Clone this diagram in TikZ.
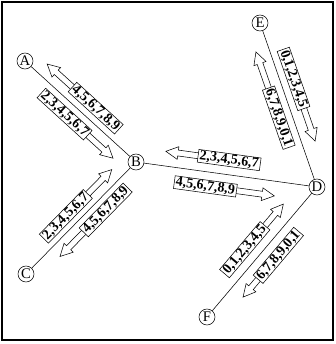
\documentclass[tikz,border=0pt]{standalone}
\usepackage{fontspec}
\setmainfont{Liberation Serif}
\usetikzlibrary{shapes.arrows}

\begin{document}
\begin{tikzpicture}[x=0.75pt, y=0.75pt,
    station/.style={draw, circle, minimum size=12pt, inner sep=0pt, font=\fontsize{11}{11}\selectfont},
    flowbox/.style={draw, fill=white, sloped, inner xsep=1.2pt, inner ysep=0.5pt, font=\bfseries\fontsize{10.5}{10.5}\selectfont},
    flowarrow/.style={draw, fill=white, sloped, single arrow, single arrow head extend=2.6pt, single arrow tip angle=55, minimum width=9pt, inner xsep=0pt, inner ysep=2pt},
    back/.style={shape border rotate=180}]

    \useasboundingbox (0,0) rectangle (336,344);
    \draw[line width=0.9pt] (2,4) rectangle (333,342);

    \node[station] (A) at (25,283) {A};
    \node[station] (B) at (136,182) {B};
    \node[station] (C) at (26,70) {C};
    \node[station] (D) at (317,157) {D};
    \node[station] (E) at (260,321) {E};
    \node[station] (F) at (207,27) {F};

    % A -- B
    \draw (A) -- (B)
        node[flowarrow, back, pos=.332, yshift=9.5pt, minimum height=47pt] (ab1a) {}
        node[flowbox, pos=.567, yshift=9.5pt] (ab1) {4,5,6,7,8,9}
        node[flowarrow, pos=.66, yshift=-9.5pt, minimum height=47pt] (ab2a) {}
        node[flowbox, pos=.425, yshift=-9.5pt] (ab2) {2,3,4,5,6,7};

    % C -- B
    \draw (C) -- (B)
        node[flowarrow, pos=.656, yshift=9pt, minimum height=47pt] (cb1a) {}
        node[flowbox, pos=.433, yshift=9pt] (cb1) {2,3,4,5,6,7}
        node[flowarrow, back, pos=.443, yshift=-9pt, minimum height=47pt] (cb2a) {}
        node[flowbox, pos=.664, yshift=-9pt] (cb2) {4,5,6,7,8,9};

    % B -- D
    \draw (B) -- (D)
        node[flowarrow, back, pos=.321, yshift=11pt, minimum height=46pt] (bd1a) {}
        node[flowbox, pos=.504, yshift=11pt] (bd1) {2,3,4,5,6,7}
        node[flowarrow, pos=.585, yshift=-11pt, minimum height=50pt] (bd2a) {}
        node[flowbox, pos=.384, yshift=-11pt] (bd2) {4,5,6,7,8,9};

    % E -- D
    \draw (E) -- (D)
        node[flowarrow, pos=.555, yshift=10pt, minimum height=47pt] (ed1a) {}
        node[flowbox, pos=.354, yshift=10pt] (ed1) {0,1,2,3,4,5}
        node[flowarrow, back, pos=.343, yshift=-10pt, minimum height=50pt] (ed2a) {}
        node[flowbox, pos=.556, yshift=-10pt] (ed2) {6,7,8,9,0,1};

    % F -- D
    \draw (F) -- (D)
        node[flowarrow, pos=.623, yshift=11pt, minimum height=43pt] (fd1a) {}
        node[flowbox, pos=.439, yshift=11pt] (fd1) {0,1,2,3,4,5}
        node[flowarrow, back, pos=.384, yshift=-11pt, minimum height=39pt] (fd2a) {}
        node[flowbox, pos=.552, yshift=-11pt] (fd2) {6,7,8,9,0,1};

\end{tikzpicture}
\end{document}
